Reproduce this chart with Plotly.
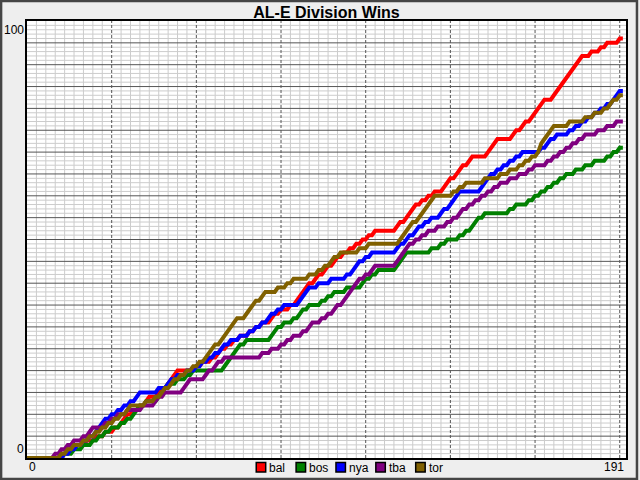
import plotly.graph_objects as go

# day index (0 = first day shown, 190 = last game day)
days = list(range(191))

teams = ["bal", "bos", "nya", "tba", "tor"]
colors = ["#ff0000", "#008000", "#0000ff", "#800080", "#806000"]

# cumulative wins per day
bal = [
    0, 0, 0, 0, 0, 0, 0, 0, 0, 0,
    0, 1, 1, 2, 2, 2, 3, 3, 3, 4,
    4, 4, 5, 5, 5, 6, 6, 6, 7, 7,
    8, 9, 10, 10, 11, 11, 12, 12, 13, 14,
    14, 14, 15, 16, 16, 17, 18, 19, 20, 20,
    20, 20, 20, 20, 21, 21, 22, 22, 22, 23,
    23, 24, 25, 25, 26, 26, 27, 27, 28, 28,
    28, 29, 29, 30, 30, 31, 31, 31, 32, 33,
    33, 34, 34, 34, 35, 35, 36, 37, 38, 39,
    40, 40, 41, 42, 42, 43, 44, 44, 45, 46,
    46, 47, 47, 48, 48, 49, 49, 50, 50, 51,
    51, 52, 52, 52, 52, 52, 52, 52, 53, 54,
    54, 55, 56, 57, 58, 58, 59, 59, 60, 60,
    61, 61, 61, 62, 63, 64, 64, 65, 66, 67,
    67, 68, 69, 69, 69, 69, 69, 70, 71, 72,
    73, 73, 73, 73, 73, 74, 75, 75, 76, 77,
    77, 78, 79, 80, 81, 82, 82, 82, 83, 84,
    85, 86, 87, 88, 89, 90, 91, 92, 92, 92,
    93, 93, 93, 94, 94, 95, 95, 95, 95, 96,
    96,
]
bos = [
    0, 0, 0, 0, 0, 0, 0, 0, 0, 0,
    0, 0, 1, 1, 1, 2, 2, 2, 3, 3,
    3, 4, 4, 5, 5, 6, 6, 7, 7, 7,
    8, 8, 9, 9, 10, 11, 12, 12, 13, 13,
    13, 13, 14, 15, 16, 17, 17, 17, 18, 18,
    18, 19, 19, 20, 20, 20, 20, 20, 20, 20,
    20, 20, 20, 21, 22, 23, 24, 25, 26, 26,
    27, 27, 27, 27, 27, 27, 27, 27, 28, 29,
    30, 30, 31, 31, 31, 32, 32, 33, 34, 34,
    35, 35, 35, 35, 36, 36, 37, 37, 38, 38,
    38, 38, 39, 39, 39, 39, 39, 40, 41, 41,
    42, 42, 43, 43, 43, 43, 43, 43, 44, 45,
    46, 47, 47, 47, 47, 47, 47, 47, 47, 48,
    48, 48, 49, 49, 50, 50, 50, 50, 51, 51,
    52, 52, 53, 54, 55, 55, 56, 56, 56, 56,
    56, 56, 56, 56, 57, 57, 58, 58, 58, 58,
    59, 59, 60, 60, 61, 61, 62, 62, 63, 63,
    64, 64, 65, 65, 65, 66, 66, 66, 67, 67,
    67, 68, 68, 68, 68, 69, 69, 70, 70, 71,
    71,
]
nya = [
    0, 0, 0, 0, 0, 0, 0, 0, 0, 0,
    0, 0, 1, 1, 2, 2, 3, 3, 4, 4,
    5, 5, 6, 7, 8, 9, 9, 10, 10, 11,
    11, 12, 12, 13, 13, 14, 15, 15, 15, 15,
    15, 15, 16, 16, 16, 17, 18, 18, 19, 19,
    19, 20, 20, 20, 21, 21, 22, 22, 23, 23,
    24, 24, 25, 26, 26, 27, 27, 27, 28, 28,
    28, 29, 29, 30, 30, 31, 31, 32, 33, 33,
    34, 34, 35, 35, 35, 35, 35, 36, 37, 38,
    39, 39, 39, 40, 40, 40, 40, 41, 41, 41,
    41, 41, 42, 42, 43, 44, 45, 45, 46, 46,
    47, 47, 47, 47, 47, 47, 47, 47, 48, 49,
    49, 50, 51, 51, 52, 53, 53, 54, 54, 55,
    55, 55, 56, 57, 57, 58, 59, 60, 61, 61,
    61, 61, 61, 61, 61, 62, 63, 64, 65, 65,
    66, 66, 67, 67, 68, 68, 69, 69, 70, 70,
    70, 70, 70, 70, 71, 71, 72, 73, 73, 74,
    74, 74, 74, 75, 75, 76, 76, 77, 77, 78,
    78, 79, 79, 80, 80, 81, 81, 82, 83, 84,
    84,
]
tba = [
    0, 0, 0, 0, 0, 0, 0, 0, 0, 1,
    1, 2, 2, 3, 3, 4, 4, 4, 5, 5,
    6, 7, 7, 7, 7, 8, 8, 9, 9, 10,
    10, 10, 11, 11, 11, 11, 11, 12, 12, 12,
    12, 13, 14, 14, 15, 15, 15, 15, 15, 15,
    16, 17, 18, 18, 18, 18, 18, 19, 20, 20,
    21, 22, 22, 23, 23, 23, 23, 23, 23, 23,
    23, 23, 23, 23, 23, 24, 24, 24, 25, 25,
    25, 26, 26, 27, 27, 28, 28, 28, 29, 29,
    30, 31, 31, 31, 32, 32, 33, 33, 34, 35,
    35, 36, 37, 38, 39, 40, 41, 41, 42, 42,
    43, 44, 44, 44, 44, 44, 44, 44, 45, 46,
    47, 48, 49, 49, 50, 50, 51, 51, 52, 52,
    52, 53, 53, 53, 54, 54, 55, 55, 56, 57,
    57, 58, 58, 59, 59, 60, 60, 61, 61, 62,
    62, 63, 63, 63, 64, 64, 64, 65, 65, 65,
    66, 66, 67, 67, 67, 67, 68, 68, 69, 69,
    70, 70, 71, 71, 72, 72, 73, 73, 74, 74,
    74, 74, 75, 75, 75, 76, 76, 76, 77, 77,
    77,
]
tor = [
    0, 0, 0, 0, 0, 0, 0, 0, 0, 0,
    0, 1, 1, 2, 2, 3, 3, 3, 4, 4,
    5, 5, 6, 6, 7, 7, 8, 8, 9, 9,
    10, 10, 11, 12, 12, 12, 12, 12, 13, 13,
    13, 14, 14, 15, 16, 16, 17, 18, 18, 19,
    19, 20, 20, 21, 21, 22, 22, 23, 24, 25,
    26, 26, 27, 28, 29, 30, 31, 32, 32, 32,
    33, 34, 35, 36, 36, 37, 38, 38, 38, 38,
    39, 39, 39, 40, 40, 41, 41, 41, 41, 41,
    42, 42, 42, 43, 43, 44, 44, 45, 46, 46,
    47, 47, 47, 47, 47, 47, 48, 48, 48, 49,
    49, 49, 49, 49, 49, 49, 49, 49, 49, 50,
    51, 52, 53, 54, 54, 55, 56, 57, 58, 59,
    60, 60, 60, 60, 60, 60, 61, 61, 62, 62,
    63, 63, 63, 63, 63, 63, 64, 64, 64, 64,
    64, 65, 65, 65, 66, 66, 66, 67, 67, 68,
    68, 69, 69, 70, 72, 73, 74, 75, 76, 76,
    76, 76, 76, 77, 77, 77, 77, 77, 78, 78,
    78, 79, 79, 79, 80, 80, 81, 82, 82, 83,
    83,
]
series = [bal, bos, nya, tba, tor]
for s in series:
    assert len(s) == len(days)

x_max = 191
y_max = 100

W, H = 640, 480
ML, MR, MT, MB = 27, 12, 21, 22

FONT = "Liberation Sans, Arial, sans-serif"


def px(x):
    # pixel column -> paper x
    return (x - ML) / (W - ML - MR)


def py(y):
    # pixel row -> paper y
    return (H - MB - y) / (H - MT - MB)


fig = go.Figure()

for name, wins, color in zip(teams, series, colors):
    fig.add_trace(
        go.Scatter(
            x=days,
            y=wins,
            mode="lines",
            name=name,
            showlegend=False,
            line=dict(color=color, width=4),
            hovertemplate=name + " day %{x}: %{y}<extra></extra>",
        )
    )

######### GRID #########
light = dict(color="#cccccc", width=1)
dark = dict(color="#555555", width=1)
for d in range(3, x_max, 3):
    if d % 27:
        fig.add_vline(x=d, line=light, layer="below")
for w in range(1, y_max):
    if w % 5:
        fig.add_hline(y=w, line=light, layer="below")
for w in range(5, y_max, 5):
    fig.add_hline(y=w, line=dark, layer="below")
for d in range(27, x_max, 27):
    fig.add_vline(x=d, line=dict(color="#555555", width=1, dash="3px,2px"), layer="below")

######### AXIS LABELS #########
lab_font = dict(family=FONT, size=12, color="black")
fig.add_annotation(text=str(y_max), xref="paper", x=0, xanchor="right", xshift=-1,
                   yref="y", y=y_max, yanchor="top", showarrow=False, font=lab_font)
fig.add_annotation(text="0", xref="paper", x=0, xanchor="right", xshift=-1,
                   yref="y", y=0, yanchor="bottom", showarrow=False, font=lab_font)
fig.add_annotation(text="0", xref="x", x=0, xanchor="left",
                   yref="paper", y=0, yanchor="top", showarrow=False, font=lab_font)
fig.add_annotation(text=str(x_max), xref="x", x=x_max, xanchor="right",
                   yref="paper", y=0, yanchor="top", showarrow=False, font=lab_font)

######### LEGEND (boxes + names under the plot) #########
for i, (name, color) in enumerate(zip(teams, colors)):
    x0 = 257 + 40 * i
    fig.add_shape(type="rect", xref="paper", yref="paper",
                  x0=px(x0), x1=px(x0 + 9.5), y0=py(472), y1=py(462.5),
                  fillcolor=color, line=dict(color="black", width=1.5))
    fig.add_annotation(text=name, xref="paper", x=px(x0 + 11), xanchor="left",
                       yref="paper", y=py(467.5), yanchor="middle",
                       showarrow=False, font=dict(family=FONT, size=12, color="black"))

# window frame
fig.add_shape(type="rect", xref="paper", yref="paper",
              x0=px(1), x1=px(639), y0=py(479), y1=py(1),
              line=dict(color="#454545", width=2.5))

fig.update_xaxes(range=[0, x_max], showgrid=False, zeroline=False, showticklabels=False,
                 ticks="", showline=True, mirror=True, linecolor="black", linewidth=1.5,
                 fixedrange=True)
fig.update_yaxes(range=[0, y_max], showgrid=False, zeroline=False, showticklabels=False,
                 ticks="", showline=True, mirror=True, linecolor="black", linewidth=1.5,
                 fixedrange=True)

fig.update_layout(
    width=W,
    height=H,
    autosize=False,
    margin=dict(l=ML, r=MR, t=MT, b=MB, pad=0),
    paper_bgcolor="#eeeeee",
    plot_bgcolor="white",
    showlegend=False,
    title=dict(
        text="<b>AL-E Division Wins</b>",
        x=px(327.5),
        xanchor="center",
        xref="paper",
        y=1 - 12 / H,
        yref="container",
        yanchor="middle",
        font=dict(family=FONT, size=16, color="black"),
    ),
)

# the page's default 8px body margin would push the 640x480 figure off the window
fig.write_html(
    "out.html",
    config={"displayModeBar": False},
    post_script="document.body.style.margin='0';document.body.style.overflow='hidden';",
)
